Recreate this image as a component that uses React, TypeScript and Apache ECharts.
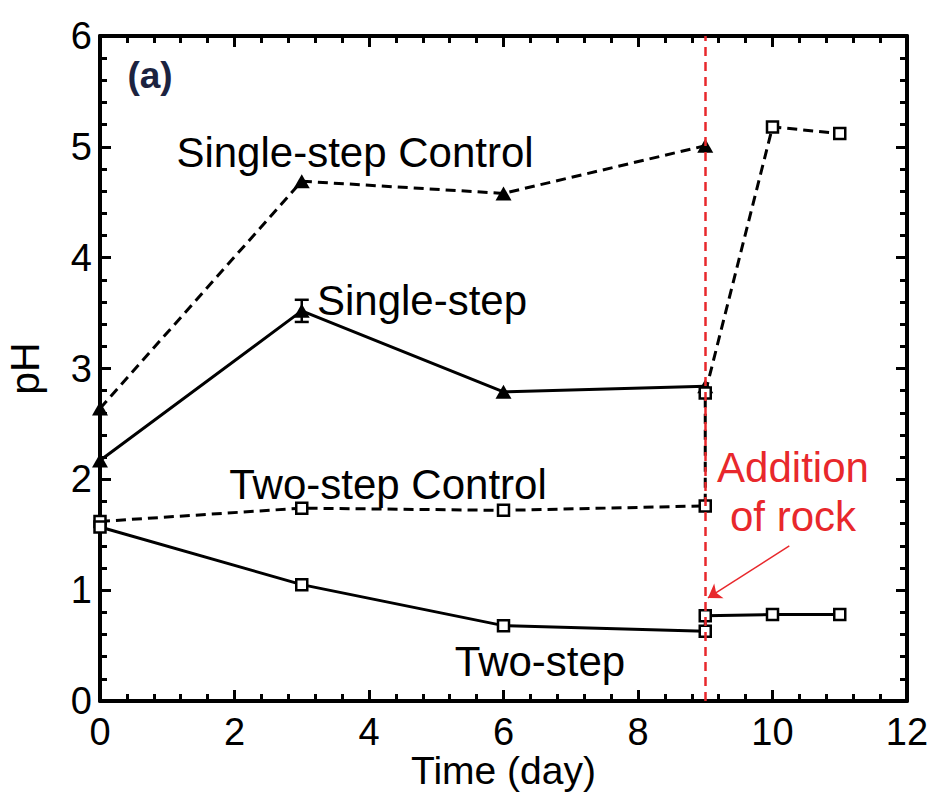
import React, { useEffect, useRef } from "react";
import * as echarts from "echarts";

const xTicks = [0, 2, 4, 6, 8, 10, 12];
const yTicks = [0, 1, 2, 3, 4, 5, 6];

const stepDays = [0, 3, 6, 9];
const singleControl = [2.64, 4.69, 4.58, 5.01];
const singleStep = [2.17, 3.52, 2.79, 2.84];
const singleStepErr = [0, 0.1, 0, 0];

const allDays = [0, 3, 6, 9, 9, 10, 11];
const twoControl = [1.62, 1.74, 1.72, 1.76, 2.78, 5.18, 5.12];
const twoStep = [1.57, 1.05, 0.68, 0.63, 0.77, 0.78, 0.78];

const rockDay = 9;
const arrowFrom = [10.25, 1.4];
const arrowTo = [9.04, 0.93];

const FONT = "Liberation Sans, Arial, Helvetica, sans-serif";
const RED = "#e8282c";

export default function App() {
  const ref = useRef<HTMLDivElement>(null);
  useEffect(() => {
    if (!ref.current) return;
    const chart = echarts.init(ref.current, null, { renderer: "svg" });
    const axisLine = { show: true, onZero: false, lineStyle: { color: "#000", width: 4 } };
    const tick = { show: true, inside: true, length: 11, lineStyle: { color: "#000", width: 3 } };
    const minor = { show: true, splitNumber: 5, length: 7, lineStyle: { color: "#000", width: 3 } };
    const label = { fontSize: 38, color: "#000", fontFamily: FONT };
    const pair = (xs: number[], ys: number[]) => xs.map((x, i) => [x, ys[i]]);
    const tri = { symbol: "triangle", symbolSize: [16, 14], itemStyle: { color: "#000" } };
    const sq = {
      symbol: "rect",
      symbolSize: 11,
      itemStyle: { color: "#fff", borderColor: "#000", borderWidth: 2.5 },
    };
    chart.setOption({
      animation: false,
      backgroundColor: "#fff",
      grid: { left: 100, right: 33, top: 36, bottom: 91, containLabel: false, outerBoundsMode: "none" },
      xAxis: [
        {
          type: "value", min: xTicks[0], max: xTicks[xTicks.length - 1], interval: 2,
          position: "bottom", axisLine, axisTick: tick, minorTick: minor,
          splitLine: { show: false }, minorSplitLine: { show: false },
          axisLabel: { ...label, margin: 12 },
          name: "Time (day)", nameLocation: "middle", nameGap: 50, nameMoveOverlap: false,
          nameTextStyle: { fontSize: 39, color: "#000", fontFamily: FONT },
        },
        {
          type: "value", min: 0, max: 12, interval: 2, position: "top",
          axisLine, axisTick: tick, minorTick: minor,
          splitLine: { show: false }, axisLabel: { show: false },
        },
      ],
      yAxis: [
        {
          type: "value", min: yTicks[0], max: yTicks[yTicks.length - 1], interval: 1,
          position: "left", axisLine, axisTick: tick, minorTick: minor,
          splitLine: { show: false }, minorSplitLine: { show: false },
          axisLabel: { ...label, margin: 8, padding: [0, 0, 12, 0] },
          name: "pH", nameLocation: "middle", nameGap: 55, nameMoveOverlap: false,
          nameTextStyle: { fontSize: 41, color: "#000", fontFamily: FONT },
        },
        {
          type: "value", min: 0, max: 6, interval: 1, position: "right",
          axisLine, axisTick: tick, minorTick: minor,
          splitLine: { show: false }, axisLabel: { show: false },
        },
      ],
      series: [
        {
          type: "line", name: "Single-step Control", data: pair(stepDays, singleControl),
          ...tri, lineStyle: { color: "#000", width: 3, type: [10, 6] },
          markLine: {
            silent: true, symbol: "none", label: { show: false },
            lineStyle: { color: RED, width: 2.5, type: [9, 6] },
            data: [{ xAxis: rockDay }],
          },
        },
        {
          type: "line", name: "Single-step", data: pair(stepDays, singleStep),
          ...tri, lineStyle: { color: "#000", width: 3 },
        },
        {
          type: "custom", name: "Single-step error",
          data: stepDays.map((d, i) => [d, singleStep[i], singleStepErr[i]]).filter((r) => r[2] > 0),
          renderItem: (params: any, api: any) => {
            const x = api.value(0), y = api.value(1), e = api.value(2);
            const top = api.coord([x, y + e]);
            const bot = api.coord([x, y - e]);
            const w = 7;
            const st = { stroke: "#000", lineWidth: 2.5 };
            return {
              type: "group",
              children: [
                { type: "line", shape: { x1: top[0], y1: top[1], x2: bot[0], y2: bot[1] }, style: st },
                { type: "line", shape: { x1: top[0] - w, y1: top[1], x2: top[0] + w, y2: top[1] }, style: st },
                { type: "line", shape: { x1: bot[0] - w, y1: bot[1], x2: bot[0] + w, y2: bot[1] }, style: st },
              ],
            };
          },
          z: 3,
        },
        {
          type: "line", name: "Two-step Control", data: pair(allDays, twoControl),
          ...sq, lineStyle: { color: "#000", width: 3, type: [10, 6] },
        },
        {
          type: "line", name: "Two-step", data: pair(allDays, twoStep),
          ...sq, lineStyle: { color: "#000", width: 3 },
        },
        {
          type: "lines", coordinateSystem: "cartesian2d", name: "arrow",
          symbol: ["none", "arrow"], symbolSize: 13,
          lineStyle: { color: RED, width: 1.5, opacity: 1 },
          data: [{ coords: [arrowFrom, arrowTo] }],
          z: 5,
        },
      ],
      graphic: [
        { type: "text", x: 150, y: 75, style: { text: "(a)", fill: "#1c2340", font: `bold 37px ${FONT}`, textAlign: "center", textVerticalAlign: "middle" } },
        { type: "text", x: 355, y: 152, style: { text: "Single-step Control", fill: "#000", font: `42px ${FONT}`, textAlign: "center", textVerticalAlign: "middle" } },
        { type: "text", x: 422, y: 300, style: { text: "Single-step", fill: "#000", font: `42px ${FONT}`, textAlign: "center", textVerticalAlign: "middle" } },
        { type: "text", x: 388, y: 484, style: { text: "Two-step Control", fill: "#000", font: `42px ${FONT}`, textAlign: "center", textVerticalAlign: "middle" } },
        { type: "text", x: 540, y: 661, style: { text: "Two-step", fill: "#000", font: `42px ${FONT}`, textAlign: "center", textVerticalAlign: "middle" } },
        { type: "text", x: 793, y: 467, style: { text: "Addition", fill: RED, font: `42px ${FONT}`, textAlign: "center", textVerticalAlign: "middle" } },
        { type: "text", x: 793, y: 516, style: { text: "of rock", fill: RED, font: `42px ${FONT}`, textAlign: "center", textVerticalAlign: "middle" } },
      ],
    });
    return () => chart.dispose();
  }, []);
  return <div ref={ref} style={{ width: 940, height: 792, position: "absolute", left: 0, top: 0 }} />;
}
